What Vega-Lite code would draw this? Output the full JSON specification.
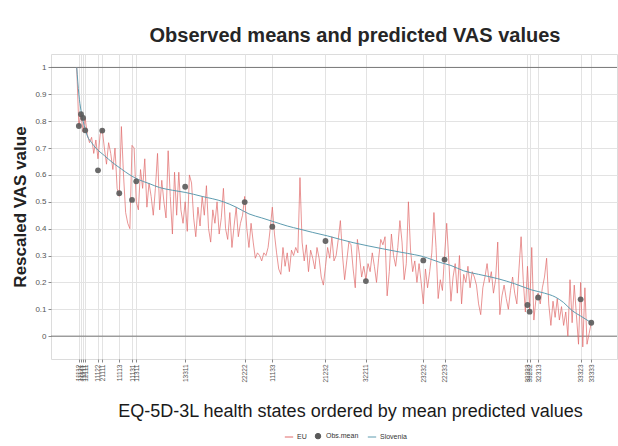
{
  "$schema": "https://vega.github.io/schema/vega-lite/v6.json",
  "width": 566,
  "height": 305,
  "autosize": {"type": "none"},
  "padding": {"left": 51, "top": 54, "right": 1, "bottom": 87},
  "background": "white",
  "config": {
    "font": "Liberation Sans",
    "view": {"stroke": "#dcdcdc", "strokeWidth": 1},
    "axis": {"domain": false, "gridColor": "#e3e3e3", "gridWidth": 1, "tickColor": "#888", "labelColor": "#555", "titleColor": "#222"},
    "legend": {"orient": "none", "legendX": 233, "legendY": 377, "direction": "horizontal", "title": null, "labelFontSize": 7, "labelColor": "#333", "symbolSize": 70, "symbolStrokeWidth": 1, "columnPadding": 6, "labelOffset": 3}
  },
  "title": {"text": "Observed means and predicted VAS values", "fontSize": 20, "fontWeight": "bold", "color": "#262626", "anchor": "middle", "dx": 21, "offset": 8},
  "datasets": {
    "eu": [
      {"idx":1,"value":1.00},{"idx":2,"value":0.78},{"idx":3,"value":0.83},{"idx":4,"value":0.76},{"idx":5,"value":0.81},{"idx":6,"value":0.75},{"idx":7,"value":0.72},{"idx":8,"value":0.74},{"idx":9,"value":0.68},{"idx":10,"value":0.73},
      {"idx":11,"value":0.66},{"idx":12,"value":0.75},{"idx":13,"value":0.77},{"idx":14,"value":0.70},{"idx":15,"value":0.64},{"idx":16,"value":0.72},{"idx":17,"value":0.68},{"idx":18,"value":0.62},{"idx":19,"value":0.70},{"idx":20,"value":0.55},
      {"idx":21,"value":0.52},{"idx":22,"value":0.78},{"idx":23,"value":0.60},{"idx":24,"value":0.46},{"idx":25,"value":0.42},{"idx":26,"value":0.40},{"idx":27,"value":0.71},{"idx":28,"value":0.70},{"idx":29,"value":0.50},{"idx":30,"value":0.47},
      {"idx":31,"value":0.62},{"idx":32,"value":0.55},{"idx":33,"value":0.66},{"idx":34,"value":0.48},{"idx":35,"value":0.57},{"idx":36,"value":0.52},{"idx":37,"value":0.45},{"idx":38,"value":0.55},{"idx":39,"value":0.68},{"idx":40,"value":0.47},
      {"idx":41,"value":0.58},{"idx":42,"value":0.50},{"idx":43,"value":0.44},{"idx":44,"value":0.69},{"idx":45,"value":0.52},{"idx":46,"value":0.38},{"idx":47,"value":0.61},{"idx":48,"value":0.45},{"idx":49,"value":0.61},{"idx":50,"value":0.47},
      {"idx":51,"value":0.42},{"idx":52,"value":0.50},{"idx":53,"value":0.39},{"idx":54,"value":0.60},{"idx":55,"value":0.57},{"idx":56,"value":0.44},{"idx":57,"value":0.37},{"idx":58,"value":0.48},{"idx":59,"value":0.41},{"idx":60,"value":0.52},
      {"idx":61,"value":0.45},{"idx":62,"value":0.56},{"idx":63,"value":0.40},{"idx":64,"value":0.35},{"idx":65,"value":0.47},{"idx":66,"value":0.42},{"idx":67,"value":0.50},{"idx":68,"value":0.38},{"idx":69,"value":0.44},{"idx":70,"value":0.55},
      {"idx":71,"value":0.40},{"idx":72,"value":0.36},{"idx":73,"value":0.46},{"idx":74,"value":0.33},{"idx":75,"value":0.41},{"idx":76,"value":0.48},{"idx":77,"value":0.37},{"idx":78,"value":0.42},{"idx":79,"value":0.45},{"idx":80,"value":0.52},
      {"idx":81,"value":0.40},{"idx":82,"value":0.33},{"idx":83,"value":0.42},{"idx":84,"value":0.35},{"idx":85,"value":0.29},{"idx":86,"value":0.31},{"idx":87,"value":0.30},{"idx":88,"value":0.28},{"idx":89,"value":0.31},{"idx":90,"value":0.30},
      {"idx":91,"value":0.33},{"idx":92,"value":0.40},{"idx":93,"value":0.48},{"idx":94,"value":0.38},{"idx":95,"value":0.31},{"idx":96,"value":0.25},{"idx":97,"value":0.23},{"idx":98,"value":0.33},{"idx":99,"value":0.26},{"idx":100,"value":0.31},
      {"idx":101,"value":0.24},{"idx":102,"value":0.32},{"idx":103,"value":0.30},{"idx":104,"value":0.33},{"idx":105,"value":0.31},{"idx":106,"value":0.59},{"idx":107,"value":0.35},{"idx":108,"value":0.28},{"idx":109,"value":0.34},{"idx":110,"value":0.24},
      {"idx":111,"value":0.32},{"idx":112,"value":0.29},{"idx":113,"value":0.25},{"idx":114,"value":0.33},{"idx":115,"value":0.29},{"idx":116,"value":0.22},{"idx":117,"value":0.19},{"idx":118,"value":0.26},{"idx":119,"value":0.33},{"idx":120,"value":0.29},
      {"idx":121,"value":0.37},{"idx":122,"value":0.28},{"idx":123,"value":0.30},{"idx":124,"value":0.36},{"idx":125,"value":0.43},{"idx":126,"value":0.30},{"idx":127,"value":0.21},{"idx":128,"value":0.28},{"idx":129,"value":0.35},{"idx":130,"value":0.34},
      {"idx":131,"value":0.25},{"idx":132,"value":0.18},{"idx":133,"value":0.36},{"idx":134,"value":0.30},{"idx":135,"value":0.22},{"idx":136,"value":0.26},{"idx":137,"value":0.21},{"idx":138,"value":0.27},{"idx":139,"value":0.24},{"idx":140,"value":0.31},
      {"idx":141,"value":0.26},{"idx":142,"value":0.20},{"idx":143,"value":0.29},{"idx":144,"value":0.36},{"idx":145,"value":0.34},{"idx":146,"value":0.37},{"idx":147,"value":0.15},{"idx":148,"value":0.24},{"idx":149,"value":0.38},{"idx":150,"value":0.30},
      {"idx":151,"value":0.26},{"idx":152,"value":0.33},{"idx":153,"value":0.43},{"idx":154,"value":0.35},{"idx":155,"value":0.21},{"idx":156,"value":0.27},{"idx":157,"value":0.50},{"idx":158,"value":0.32},{"idx":159,"value":0.24},{"idx":160,"value":0.28},
      {"idx":161,"value":0.20},{"idx":162,"value":0.27},{"idx":163,"value":0.20},{"idx":164,"value":0.12},{"idx":165,"value":0.25},{"idx":166,"value":0.18},{"idx":167,"value":0.24},{"idx":168,"value":0.31},{"idx":169,"value":0.46},{"idx":170,"value":0.33},
      {"idx":171,"value":0.14},{"idx":172,"value":0.21},{"idx":173,"value":0.17},{"idx":174,"value":0.30},{"idx":175,"value":0.42},{"idx":176,"value":0.28},{"idx":177,"value":0.13},{"idx":178,"value":0.22},{"idx":179,"value":0.27},{"idx":180,"value":0.16},
      {"idx":181,"value":0.30},{"idx":182,"value":0.12},{"idx":183,"value":0.23},{"idx":184,"value":0.20},{"idx":185,"value":0.26},{"idx":186,"value":0.18},{"idx":187,"value":0.24},{"idx":188,"value":0.22},{"idx":189,"value":0.19},{"idx":190,"value":0.12},
      {"idx":191,"value":0.08},{"idx":192,"value":0.18},{"idx":193,"value":0.22},{"idx":194,"value":0.27},{"idx":195,"value":0.20},{"idx":196,"value":0.24},{"idx":197,"value":0.16},{"idx":198,"value":0.21},{"idx":199,"value":0.35},{"idx":200,"value":0.08},
      {"idx":201,"value":0.15},{"idx":202,"value":0.19},{"idx":203,"value":0.14},{"idx":204,"value":0.10},{"idx":205,"value":0.17},{"idx":206,"value":0.22},{"idx":207,"value":0.16},{"idx":208,"value":0.12},{"idx":209,"value":0.25},{"idx":210,"value":0.37},
      {"idx":211,"value":0.21},{"idx":212,"value":0.09},{"idx":213,"value":0.26},{"idx":214,"value":0.10},{"idx":215,"value":0.33},{"idx":216,"value":0.06},{"idx":217,"value":0.14},{"idx":218,"value":0.16},{"idx":219,"value":0.12},{"idx":220,"value":0.18},
      {"idx":221,"value":0.22},{"idx":222,"value":0.29},{"idx":223,"value":0.12},{"idx":224,"value":0.04},{"idx":225,"value":0.13},{"idx":226,"value":0.07},{"idx":227,"value":0.14},{"idx":228,"value":0.06},{"idx":229,"value":0.11},{"idx":230,"value":0.04},
      {"idx":231,"value":0.09},{"idx":232,"value":0.00},{"idx":233,"value":0.21},{"idx":234,"value":0.05},{"idx":235,"value":0.19},{"idx":236,"value":0.08},{"idx":237,"value":-0.03},{"idx":238,"value":0.20},{"idx":239,"value":-0.04},{"idx":240,"value":0.18},
      {"idx":241,"value":-0.03},{"idx":242,"value":0.01},{"idx":243,"value":0.05}
    ],
    "slovenia": [
      {"idx":1,"value":1.0},{"idx":2,"value":0.90},{"idx":3,"value":0.84},{"idx":4,"value":0.80},{"idx":5,"value":0.77},{"idx":6,"value":0.745},{"idx":8,"value":0.72},{"idx":10,"value":0.70},{"idx":14,"value":0.672},{"idx":18,"value":0.645},
      {"idx":22,"value":0.622},{"idx":26,"value":0.60},{"idx":30,"value":0.583},{"idx":35,"value":0.568},{"idx":40,"value":0.553},{"idx":46,"value":0.543},{"idx":52,"value":0.535},{"idx":60,"value":0.52},{"idx":70,"value":0.50},{"idx":76,"value":0.48},
      {"idx":82,"value":0.455},{"idx":88,"value":0.44},{"idx":94,"value":0.425},{"idx":100,"value":0.41},{"idx":106,"value":0.398},{"idx":112,"value":0.386},{"idx":119,"value":0.373},{"idx":125,"value":0.36},{"idx":131,"value":0.348},{"idx":138,"value":0.336},
      {"idx":145,"value":0.325},{"idx":153,"value":0.313},{"idx":160,"value":0.303},{"idx":164,"value":0.296},{"idx":168,"value":0.285},{"idx":172,"value":0.274},{"idx":177,"value":0.263},{"idx":183,"value":0.243},{"idx":190,"value":0.23},{"idx":199,"value":0.214},
      {"idx":207,"value":0.195},{"idx":215,"value":0.172},{"idx":221,"value":0.16},{"idx":226,"value":0.146},{"idx":230,"value":0.125},{"idx":234,"value":0.095},{"idx":238,"value":0.075},{"idx":243,"value":0.05}
    ],
    "obs": [
      {"idx":2,"state":"11112","value":0.782},{"idx":3,"state":"11121","value":0.826},{"idx":4,"state":"11211","value":0.812},{"idx":5,"state":"12111","value":0.766},
      {"idx":11,"state":"11122","value":0.617},{"idx":13,"state":"21111","value":0.765},{"idx":21,"state":"11113","value":0.532},{"idx":27,"state":"11131","value":0.507},
      {"idx":29,"state":"11311","value":0.576},{"idx":52,"state":"13311","value":0.556},{"idx":80,"state":"22222","value":0.499},{"idx":93,"state":"11133","value":0.407},
      {"idx":118,"state":"21232","value":0.354},{"idx":137,"state":"32211","value":0.205},{"idx":164,"state":"23232","value":0.282},{"idx":174,"state":"22233","value":0.285},
      {"idx":213,"state":"32223","value":0.116},{"idx":214,"state":"33232","value":0.091},{"idx":218,"state":"32313","value":0.144},{"idx":238,"state":"33323","value":0.137},
      {"idx":243,"state":"33333","value":0.05}
    ],
    "hlines": [{"value": 0}, {"value": 1}]
  },
  "encoding": {
    "x": {
      "field": "idx", "type": "quantitative",
      "scale": {"domain": [-11.1, 255.1], "nice": false, "zero": false},
      "axis": {
        "values": [2,3,4,5,11,13,21,27,29,52,80,93,118,137,164,174,213,214,218,238,243],
        "labelExpr": "['11112','11121','11211','12111','11122','21111','11113','11131','11311','13311','22222','11133','21232','32211','23232','22233','32223','33232','32313','33323','33333'][indexof([2,3,4,5,11,13,21,27,29,52,80,93,118,137,164,174,213,214,218,238,243], datum.value)]",
        "labelAngle": -90, "labelFontSize": 6.5, "labelPadding": 2, "tickSize": 3, "labelOverlap": false, "labelFlush": false,
        "title": "EQ-5D-3L health states ordered by mean predicted values",
        "titleFontSize": 18, "titleFontWeight": "normal", "titleColor": "#1a1a1a",
        "titleX": 299, "titleY": 57, "titleAlign": "center", "titleBaseline": "alphabetic"
      }
    },
    "y": {
      "field": "value", "type": "quantitative",
      "scale": {"domain": [-0.085, 1.05], "nice": false, "zero": false},
      "axis": {
        "values": [0,0.1,0.2,0.3,0.4,0.5,0.6,0.7,0.8,0.9,1],
        "format": "~g", "labelFontSize": 8, "tickSize": 3, "labelPadding": 2,
        "title": "Rescaled VAS value", "titleFontSize": 17, "titleFontWeight": "bold", "titlePadding": 5
      }
    },
    "color": {
      "field": "series", "type": "nominal",
      "scale": {"domain": ["EU", "Obs.mean", "Slovenia"], "range": ["#e06b6b", "#5a5a5a", "#5e9cb0"]},
      "legend": {"title": null, "orient": "none", "legendX": 233, "legendY": 377, "direction": "horizontal",
        "symbolType": "stroke",
        "encode": {"symbols": {"update": {
          "shape": {"signal": "datum.value === 'Obs.mean' ? 'circle' : 'stroke'"},
          "fill": {"signal": "datum.value === 'Obs.mean' ? '#5a5a5a' : 'transparent'"},
          "size": {"signal": "datum.value === 'Obs.mean' ? 30 : 70"}
        }}}
      }
    }
  },
  "layer": [
    {
      "data": {"name": "hlines"},
      "mark": {"type": "rule", "color": "#777777", "strokeWidth": 1},
      "encoding": {"x": null, "color": null, "y": {"field": "value", "type": "quantitative"}}
    },
    {
      "data": {"name": "eu"},
      "transform": [{"calculate": "'EU'", "as": "series"}],
      "mark": {"type": "line", "strokeWidth": 0.8, "opacity": 0.9}
    },
    {
      "data": {"name": "slovenia"},
      "transform": [{"calculate": "'Slovenia'", "as": "series"}],
      "mark": {"type": "line", "strokeWidth": 1, "interpolate": "monotone"}
    },
    {
      "data": {"name": "obs"},
      "transform": [{"calculate": "'Obs.mean'", "as": "series"}],
      "mark": {"type": "point", "filled": true, "opacity": 0.9, "size": 34}
    }
  ]
}
